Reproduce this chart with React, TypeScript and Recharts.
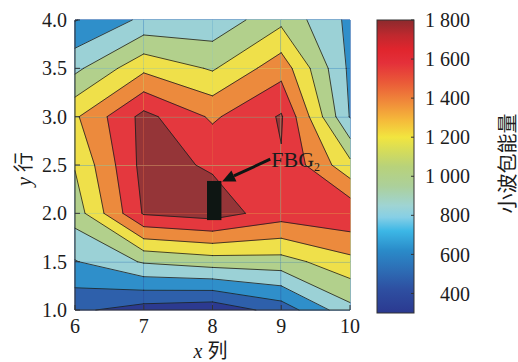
import React from 'react';
import { ComposedChart, XAxis, YAxis, ReferenceArea, ReferenceLine } from 'recharts';

// grid of the sensor array (x = 列, y = 行)
const xCols = [6, 7, 8, 9, 10];
const yRows = [1, 1.5, 2, 2.5, 3, 3.5, 4];

// 小波包能量 at each node, one row per y (1.0 -> 4.0), left to right x = 6..10
const energyY10 = [500, 390, 350, 535, 915];
const energyY15 = [790, 985, 1050, 1065, 1250];
const energyY20 = [1045, 1650, 1710, 1550, 1600];
const energyY25 = [1145, 1690, 1615, 1620, 1185];
const energyY30 = [1275, 1685, 1440, 1650, 790];
const energyY35 = [925, 1260, 1115, 1400, 765];
const energyY40 = [625, 835, 850, 1090, 760];
const energyRows = [energyY10, energyY15, energyY20, energyY25, energyY30, energyY35, energyY40];

const contourLevels = [466.7, 633.3, 800, 966.7, 1133.3, 1300, 1466.7, 1633.3];
const bandColors = ['#2c3a90', '#2e60ab', '#2f8fca', '#9bd1d6', '#b2d08c', '#efe04a', '#ec8a3d', '#e4383e', '#953538'];

const xTicks = [6, 7, 8, 9, 10];
const yTicks = [1, 1.5, 2, 2.5, 3, 3.5, 4];
const barDomain = [300, 1800];
const barTicks = [400, 600, 800, 1000, 1200, 1400, 1600, 1800];
const barStopValues = [300, 420, 520, 620, 720, 790, 850, 950, 1050, 1130, 1200, 1290, 1380, 1480, 1580, 1650, 1720, 1800];
const barStopColors = ['#2b3990', '#2e4fa1', '#2d6db5', '#2a8bc9', '#3cb7e6', '#86cfe6', '#9fd4d3', '#acd09a', '#b8d27a', '#d5dc5a', '#f2e53f', '#f5b83a', '#f08a3a', '#ea5a38', '#e4303a', '#e0252d', '#c0282e', '#8c2a2d'];

// FBG2 sensor marker
const fbgBox = { x1: 7.92, x2: 8.13, y1: 1.93, y2: 2.335 };
const fbgArrow = [{ x: 8.84, y: 2.56 }, { x: 8.14, y: 2.33 }];

const serif = "'Liberation Serif', 'Times New Roman', serif";
const cjk = "'Liberation Serif', 'Noto Sans CJK SC', serif";
const ink = '#1c1c1c';

type Pt = [number, number];
type Cell = { x0: number; x1: number; y0: number; y1: number; v: number[] };

const cells: Cell[] = [];
for (let j = 0; j < yRows.length - 1; j++) {
  for (let i = 0; i < xCols.length - 1; i++) {
    cells.push({
      x0: xCols[i], x1: xCols[i + 1], y0: yRows[j], y1: yRows[j + 1],
      v: [energyRows[j][i], energyRows[j][i + 1], energyRows[j + 1][i + 1], energyRows[j + 1][i]],
    });
  }
}

const corners = (c: Cell): Pt[] => [[c.x0, c.y0], [c.x1, c.y0], [c.x1, c.y1], [c.x0, c.y1]];

// part of the cell where value >= level (linear along the edges)
function clipCell(c: Cell, level: number): Pt[] {
  const p = corners(c);
  const out: Pt[] = [];
  for (let k = 0; k < 4; k++) {
    const a = p[k], b = p[(k + 1) % 4];
    const va = c.v[k], vb = c.v[(k + 1) % 4];
    if (va >= level) out.push(a);
    if ((va >= level) !== (vb >= level)) {
      const t = (level - va) / (vb - va);
      out.push([a[0] + t * (b[0] - a[0]), a[1] + t * (b[1] - a[1])]);
    }
  }
  return out;
}

function contourSegments(c: Cell, level: number): [Pt, Pt][] {
  const p = corners(c);
  const hits: Pt[] = [];
  for (let k = 0; k < 4; k++) {
    const a = p[k], b = p[(k + 1) % 4];
    const va = c.v[k], vb = c.v[(k + 1) % 4];
    if ((va >= level) !== (vb >= level)) {
      const t = (level - va) / (vb - va);
      hits.push([a[0] + t * (b[0] - a[0]), a[1] + t * (b[1] - a[1])]);
    }
  }
  if (hits.length === 2) return [[hits[0], hits[1]]];
  if (hits.length === 4) {
    return c.v[0] >= level ? [[hits[0], hits[1]], [hits[2], hits[3]]] : [[hits[1], hits[2]], [hits[3], hits[0]]];
  }
  return [];
}

const cellMapper = (c: Cell, p: any) => (pt: Pt): Pt => [
  p.x + ((pt[0] - c.x0) / (c.x1 - c.x0)) * p.width,
  p.y + p.height - ((pt[1] - c.y0) / (c.y1 - c.y0)) * p.height,
];

const CellFill = (c: Cell) => (p: any) => {
  const map = cellMapper(c, p);
  const polys: { pts: Pt[]; color: string }[] = [{ pts: corners(c), color: bandColors[0] }];
  contourLevels.forEach((L, k) => {
    const pts = clipCell(c, L);
    if (pts.length >= 3) polys.push({ pts, color: bandColors[k + 1] });
  });
  return (
    <g>
      {polys.map((poly, i) => (
        <polygon
          key={i}
          points={poly.pts.map((q) => map(q).map((n) => n.toFixed(2)).join(',')).join(' ')}
          fill={poly.color}
          stroke={poly.color}
          strokeWidth={0.6}
          strokeLinejoin="round"
        />
      ))}
    </g>
  );
};

const CellLines = (c: Cell) => (p: any) => {
  const map = cellMapper(c, p);
  const segs = contourLevels.flatMap((L) => contourSegments(c, L));
  return (
    <g>
      {segs.map(([a, b], i) => {
        const [ax, ay] = map(a);
        const [bx, by] = map(b);
        return <line key={i} x1={ax} y1={ay} x2={bx} y2={by} stroke={ink} strokeWidth={0.8} strokeLinecap="round" />;
      })}
    </g>
  );
};

const FbgArrow = (p: any) => {
  const { x1, y1, x2, y2 } = p;
  const len = Math.hypot(x2 - x1, y2 - y1);
  const ux = (x2 - x1) / len, uy = (y2 - y1) / len;
  const head = 13, half = 6;
  const bx = x2 - ux * head, by = y2 - uy * head;
  return (
    <g>
      <line x1={x1} y1={y1} x2={bx} y2={by} stroke="#0e1613" strokeWidth={3} />
      <polygon
        points={`${x2},${y2} ${bx - uy * half},${by + ux * half} ${bx + uy * half},${by - ux * half}`}
        fill="#0e1613"
      />
      <text x={x1 + 1} y={y1 + 7.5} fontFamily={serif} fontSize={22} fill={ink}>
        FBG<tspan fontSize={12} dy={4}>2</tspan>
      </text>
    </g>
  );
};

const ColorBar = (p: any) => (
  <g>
    <defs>
      <linearGradient id="energyBar" x1="0" y1="1" x2="0" y2="0">
        {barStopValues.map((v, i) => (
          <stop key={v} offset={(v - barDomain[0]) / (barDomain[1] - barDomain[0])} stopColor={barStopColors[i]} />
        ))}
      </linearGradient>
    </defs>
    <rect x={p.x} y={p.y} width={p.width} height={p.height} fill="url(#energyBar)" stroke="#333" strokeWidth={1} />
  </g>
);

const thousands = (v: number) => (v >= 1000 ? `${Math.floor(v / 1000)} ${String(v % 1000).padStart(3, '0')}` : String(v));
const tickFont = { fontSize: 20, fontFamily: serif, fill: ink };

export default function App() {
  return (
    <div style={{ position: 'absolute', left: 0, top: 0, width: 518, height: 362, background: '#fff', overflow: 'hidden' }}>
      <div style={{ position: 'absolute', left: 0, top: 0 }}>
        <ComposedChart width={370} height={362} margin={{ top: 20, right: 20, bottom: 0, left: 0 }}>
          {cells.map((c, i) => (
            <ReferenceArea key={`f${i}`} x1={c.x0} x2={c.x1} y1={c.y0} y2={c.y1} shape={CellFill(c)} />
          ))}
          {cells.map((c, i) => (
            <ReferenceArea key={`l${i}`} x1={c.x0} x2={c.x1} y1={c.y0} y2={c.y1} shape={CellLines(c)} />
          ))}
          <ReferenceArea x1={fbgBox.x1} x2={fbgBox.x2} y1={fbgBox.y1} y2={fbgBox.y2} fill="#0e1613" fillOpacity={1} stroke="none" />
          <ReferenceLine segment={fbgArrow} shape={FbgArrow} />
          <XAxis
            type="number"
            dataKey="x"
            domain={[6, 10]}
            ticks={xTicks}
            allowDataOverflow
            height={52}
            tickSize={-5}
            tickMargin={14}
            tick={tickFont}
            axisLine={{ stroke: '#333' }}
            tickLine={{ stroke: '#333' }}
            label={{
              content: (lp: any) => {
                const vb = lp.viewBox;
                return (
                  <text x={vb.x + vb.width / 2 - 2} y={358} textAnchor="middle" fontSize={20} fill={ink} fontFamily={cjk}>
                    <tspan fontStyle="italic">x</tspan> 列
                  </text>
                );
              },
            }}
          />
          <XAxis
            xAxisId="t"
            orientation="top"
            type="number"
            domain={[6, 10]}
            ticks={xTicks}
            allowDataOverflow
            height={0}
            tickSize={-5}
            tickFormatter={() => ''}
            axisLine={{ stroke: '#333' }}
            tickLine={{ stroke: '#333' }}
          />
          <YAxis
            type="number"
            dataKey="y"
            domain={[1, 4]}
            ticks={yTicks}
            allowDataOverflow
            width={75}
            tickSize={-5}
            tickMargin={13}
            tick={tickFont}
            tickFormatter={(v: number) => v.toFixed(1)}
            axisLine={{ stroke: '#333' }}
            tickLine={{ stroke: '#333' }}
            label={{
              content: (lp: any) => {
                const vb = lp.viewBox;
                const cx = 31, cy = vb.y + vb.height / 2 + 4;
                return (
                  <text x={cx} y={cy} transform={`rotate(-90, ${cx}, ${cy})`} textAnchor="middle" fontSize={20} fill={ink} fontFamily={cjk}>
                    <tspan fontStyle="italic">y</tspan> 行
                  </text>
                );
              },
            }}
          />
          <YAxis
            yAxisId="r"
            orientation="right"
            type="number"
            domain={[1, 4]}
            ticks={yTicks}
            allowDataOverflow
            width={0}
            tickSize={-5}
            tickFormatter={() => ''}
            axisLine={{ stroke: '#333' }}
            tickLine={{ stroke: '#333' }}
          />
        </ComposedChart>
      </div>
      <div style={{ position: 'absolute', left: 357, top: 0 }}>
        <ComposedChart width={161} height={362} margin={{ top: 20, right: 0, bottom: 49, left: 20 }}>
          <ReferenceArea x1={0} x2={1} y1={barDomain[0]} y2={barDomain[1]} yAxisId="v" shape={ColorBar} />
          <XAxis
            type="number"
            dataKey="x"
            domain={[0, 1]}
            allowDataOverflow
            height={0}
            tick={false}
            tickLine={false}
            axisLine={false}
          />
          <YAxis
            yAxisId="l"
            orientation="left"
            type="number"
            domain={barDomain}
            ticks={barTicks}
            allowDataOverflow
            width={0}
            tickSize={-3}
            tickFormatter={() => ''}
            axisLine={false}
            tickLine={{ stroke: '#333' }}
          />
          <YAxis
            yAxisId="v"
            orientation="right"
            type="number"
            dataKey="v"
            domain={barDomain}
            ticks={barTicks}
            allowDataOverflow
            width={104}
            tickSize={-3}
            tickMargin={59}
            tick={{ ...tickFont, textAnchor: 'end' }}
            tickFormatter={thousands}
            axisLine={false}
            tickLine={{ stroke: '#333' }}
            label={{
              content: (lp: any) => {
                const vb = lp.viewBox;
                const cx = vb.x + 101, cy = vb.y + vb.height / 2 - 3;
                return (
                  <text x={cx} y={cy} transform={`rotate(-90, ${cx}, ${cy})`} textAnchor="middle" fontSize={20} fill={ink} fontFamily={cjk}>
                    小波包能量
                  </text>
                );
              },
            }}
          />
        </ComposedChart>
      </div>
    </div>
  );
}
